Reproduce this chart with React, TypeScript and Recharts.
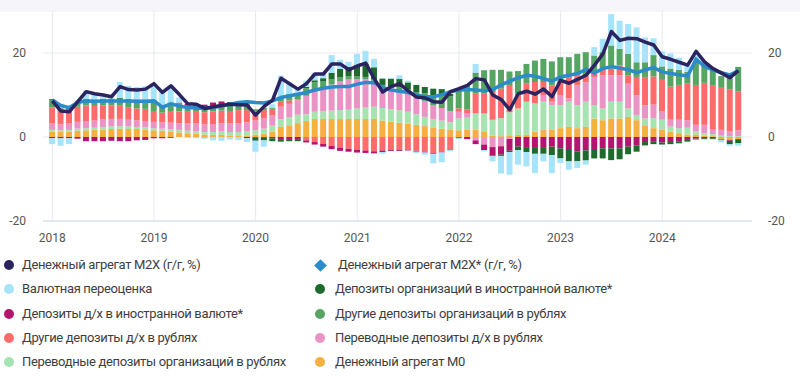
import { ComposedChart, Bar, Line, XAxis, YAxis, CartesianGrid } from 'recharts'

// x = month index, 0 = Jan 2018
const years = ['2018', '2019', '2020', '2021', '2022', '2023', '2024']
const yearTicks = [0, 12, 24, 36, 48, 60, 72]
const yTicks = [-20, 0, 20]

// contributions, p.p.
const m0 = [
    1.3, 1.2, 1.3, 1.5, 1.6, 1.7, 1.8, 1.9, 2.0, 1.9, 1.9, 1.8,
    1.6, 1.5, 1.3, 1.1, 0.9, 0.8, 0.6, 0.5, 0.5, 0.4, 0.4, 0.4,
    0.6, 0.8, 1.3, 2.4, 2.8, 3.3, 3.8, 4.3, 4.3, 4.3, 4.3, 4.3,
    4.3, 4.3, 4.3, 3.9, 3.6, 3.4, 3.2, 2.9, 2.6, 2.3, 2.0, 1.7,
    1.6, 1.7, 1.7, 1.2, 0.3, 0.2, 0.4, 0.5, 0.5, 1.3, 1.7, 1.7,
    2.1, 2.4, 2.1, 2.4, 4.4, 4.0, 4.4, 4.4, 4.8, 4.0, 2.8, 2.1,
    1.7, 1.3, 0.9, 0.6, 0.5, 0.3, 0.2, -0.5, -0.7, -0.5
]
const orgTransfer = [
    0.4, 0.4, 0.4, 0.5, 0.5, 0.5, 0.6, 0.6, 0.6, 0.6, 0.5, 0.5,
    0.5, 0.5, 0.5, 0.6, 0.6, 0.6, 0.6, 0.7, 0.8, 0.8, 0.8, 0.9,
    1.0, 1.2, 1.4, 1.8, 1.9, 2.0, 1.6, 1.7, 1.8, 2.0, 2.1, 2.2,
    2.5, 2.7, 2.9, 3.0, 3.0, 3.0, 2.8, 2.5, 2.2, 2.0, 1.9, 1.8,
    2.8, 2.9, 3.9, 4.4, 3.8, 4.3, 5.5, 6.3, 7.9, 6.7, 6.7, 5.9,
    5.5, 6.0, 5.5, 6.0, 3.2, 2.8, 4.0, 4.0, 2.0, 1.2, 1.6, 2.4,
    2.4, 1.2, 1.2, 1.6, 0.8, 0.6, 0.5, 0.3, 0.2, 0.2
]
const hhTransfer = [
    1.5, 1.4, 1.5, 1.6, 1.7, 1.7, 1.8, 1.8, 1.7, 1.6, 1.6, 1.5,
    1.5, 1.5, 1.6, 1.6, 1.7, 1.8, 1.8, 1.9, 2.0, 2.0, 2.1, 2.2,
    2.3, 2.4, 2.4, 3.0, 3.2, 3.4, 4.4, 5.0, 5.5, 6.2, 6.8, 7.2,
    7.0, 6.8, 6.2, 5.2, 5.0, 4.8, 4.8, 4.2, 3.8, 3.2, 3.0, 2.7,
    1.6, 1.1, -0.8, -1.8, -2.4, -2.2, -0.5, 0.0, 0.0, 0.0, 1.6, 0.8,
    2.4, 0.8, 4.7, 4.7, 6.7, 7.9, 6.3, 6.3, 5.9, 4.7, 3.2, 3.2,
    2.0, 1.6, 2.0, 1.8, 1.6, 2.0, 1.2, 1.4, 1.1, 1.4
]
const hhOther = [
    3.8, 3.0, 3.2, 3.6, 3.7, 3.5, 3.3, 3.2, 3.3, 3.0, 2.8, 2.9,
    2.6, 2.3, 2.6, 2.8, 2.8, 2.8, 2.9, 3.0, 3.0, 3.0, 3.1, 2.9,
    2.3, 2.0, 1.6, 1.2, 0.8, 0.3, -0.8, -1.2, -1.6, -2.1, -2.5, -2.8,
    -3.0, -3.2, -3.4, -3.2, -3.0, -3.0, -3.0, -3.3, -3.5, -3.8, -3.6, -3.0,
    0.8, 0.8, 4.7, 4.7, 6.6, 7.0, 6.5, 3.5, 4.3, 5.1, 3.1, 3.9,
    3.5, 5.1, 2.4, 1.6, 1.0, 1.6, 1.6, 2.4, 2.0, 4.4, 6.7, 6.7,
    7.5, 7.9, 8.3, 8.7, 9.5, 10.0, 10.3, 10.0, 10.1, 9.2
]
const orgOther = [
    1.8, 0.7, 0.4, 0.8, 1.2, 1.1, 1.3, 1.4, 1.5, 1.6, 1.7, 1.9,
    2.3, 1.6, 2.0, 1.9, 1.6, 1.6, 1.3, 1.4, 1.5, 1.6, 1.5, 1.4,
    0.4, 0.6, 0.3, 1.2, 1.5, 1.4, 1.8, 2.0, 1.6, 1.2, 1.0, 0.8,
    0.6, 0.5, 0.4, 0.3, 0.5, 0.6, 0.5, 1.0, 1.8, 2.4, 2.8, 3.5,
    4.0, 5.8, 4.8, 5.6, 5.3, 4.5, 3.2, 5.4, 4.7, 5.1, 5.5, 5.7,
    5.5, 4.7, 5.1, 5.5, 4.1, 3.9, 5.5, 3.9, 5.1, 3.5, 3.5, 5.1,
    3.2, 4.3, 3.6, 2.8, 5.5, 4.3, 3.6, 2.8, 3.6, 5.9
]
const hhForeign = [
    -0.3, -0.3, -0.3, -0.4, -1.0, -1.0, -1.0, -0.9, -1.0, -1.0, -0.8, -0.7,
    -0.3, -0.3, -0.2, 0.2, 0.3, 0.3, 0.5, 0.7, 0.6, 0.3, 0.2, 0.2,
    -0.2, -0.2, -0.3, -0.5, -0.5, -0.5, -0.5, -0.6, -0.7, -0.8, -0.8, -0.7,
    -0.7, -0.6, -0.5, -0.4, -0.3, -0.3, -0.2, -0.2, -0.2, -0.2, -0.1, -0.1,
    -0.2, -0.5, -0.9, -1.3, -2.0, -2.0, -2.8, -2.3, -2.4, -2.4, -2.4, -2.3,
    -2.7, -3.1, -3.5, -3.2, -3.1, -2.7, -2.7, -2.7, -2.3, -2.0, -1.2, -1.0,
    -1.3, -1.2, -1.0, -0.7, -0.4, -0.3, -0.3, -0.1, -0.2, -0.2
]
const orgForeign = [
    0.2, 0.1, 0.1, 0.1, 0.3, 0.2, 0.2, 0.2, 0.2, 0.3, 0.4, 0.3,
    0.2, 0.1, 0.2, 0.0, 0.0, 0.0, -0.1, 0.0, 0.1, 0.2, 0.1, -0.3,
    -0.7, -0.6, -0.7, -0.6, -0.5, -0.5, 0.3, 0.5, 0.8, 1.6, 2.0, 2.2,
    2.8, 3.2, 2.8, 1.5, 1.8, 2.0, 1.7, 1.8, 1.5, 1.6, 1.7, 0.6,
    0.6, 0.0, 0.2, 0.0, -0.2, -0.3, -0.3, -0.8, -1.2, -1.6, -1.6, -2.0,
    -2.4, -2.7, -2.3, -2.4, -2.0, -2.4, -2.8, -2.6, -1.8, -1.5, -0.8, -0.7,
    -0.5, -0.5, -0.5, -0.4, -0.2, -0.2, -0.2, -0.1, -0.8, -0.8
]
const fxRevaluation = [
    -1.4, -1.8, -1.4, 0.6, 2.0, 1.3, 0.5, 0.3, 3.8, 3.2, 3.0, 3.2,
    3.8, 3.5, 4.0, 1.2, -0.2, -0.3, -0.3, -0.8, -0.9, -0.6, -0.7, -0.9,
    -2.6, -1.5, 0.8, 5.0, 2.8, 1.5, 1.5, 1.8, 1.3, 4.2, 2.2, 1.2,
    2.6, 3.0, 2.0, -0.4, 0.2, 0.9, 0.4, -0.3, -0.5, -2.3, -2.3, -0.3,
    -0.3, 0.0, 2.1, -0.3, -1.2, -4.2, -5.4, -3.5, -3.4, -4.6, -1.8, -4.3,
    -1.1, -2.0, -1.6, -1.0, 2.0, 3.2, 7.5, 6.7, 7.1, 8.3, 5.9, 4.0,
    3.6, 3.6, 2.9, 2.0, 1.5, -0.2, -0.1, -0.6, -0.4, -0.6
]

// y/y, %
const m2x = [
    8.6, 6.2, 6.0, 8.4, 10.8, 10.3, 10.0, 9.6, 12.0, 11.3, 11.2, 11.4,
    12.7, 10.6, 12.2, 10.1, 7.9, 7.8, 6.8, 7.2, 7.5, 7.8, 7.7, 7.6,
    5.2, 7.3, 8.8, 14.0, 12.7, 11.4, 12.7, 15.0, 15.0, 17.4, 17.4, 16.0,
    16.9, 17.6, 13.9, 10.7, 12.0, 12.7, 11.0, 9.5, 9.3, 8.4, 8.3, 10.8,
    11.5, 12.3, 13.9, 13.6, 10.0, 8.9, 6.5, 10.3, 10.9, 10.2, 11.4, 9.6,
    13.5, 12.8, 13.7, 14.7, 17.1, 19.8, 25.1, 23.0, 23.5, 23.4, 22.6, 21.9,
    19.1, 18.5, 17.8, 17.1, 20.4, 17.9, 16.3, 15.2, 14.1, 15.8
]
const m2xStar = [
    8.8, 7.5, 7.0, 8.2, 8.6, 8.5, 8.6, 8.6, 8.6, 8.6, 8.5, 8.5,
    8.6, 7.1, 7.9, 7.4, 7.0, 6.9, 6.8, 7.0, 7.4, 7.8, 8.2, 8.4,
    8.2, 8.1, 8.6, 9.4, 9.8, 10.2, 10.6, 11.2, 11.6, 11.9, 12.0, 12.0,
    12.6, 13.0, 12.9, 11.8, 11.2, 10.9, 10.6, 10.0, 9.6, 9.6, 10.1, 10.8,
    11.1, 11.3, 11.2, 11.0, 11.3, 12.4, 13.3, 14.1, 14.7, 14.5, 13.9, 13.3,
    14.3, 14.7, 15.1, 16.1, 15.2, 16.3, 16.8, 16.4, 16.0, 15.3, 16.0, 16.5,
    15.5, 15.1, 14.8, 14.5, 18.5, 16.8, 15.9, 15.3, 14.8, 15.8
]

const COLORS = {
    m2x: '#2c2461',
    m2xStar: '#2b8bcb',
    fx: '#a6e4fc',
    orgForeign: '#1d6a2c',
    hhForeign: '#b4146e',
    orgOther: '#56a562',
    hhOther: '#ff6b6b',
    hhTransfer: '#eb93c4',
    orgTransfer: '#a5e3b0',
    m0: '#f5b041'
}

// legend, two columns, row-major as on the page
const legendItems = [
    { label: 'Денежный агрегат M2X (г/г, %)', color: COLORS.m2x, shape: 'circle' },
    { label: 'Денежный агрегат M2X* (г/г, %)', color: COLORS.m2xStar, shape: 'diamond' },
    { label: 'Валютная переоценка', color: COLORS.fx, shape: 'circle' },
    { label: 'Депозиты организаций в иностранной валюте*', color: COLORS.orgForeign, shape: 'circle' },
    { label: 'Депозиты д/х в иностранной валюте*', color: COLORS.hhForeign, shape: 'circle' },
    { label: 'Другие депозиты организаций в рублях', color: COLORS.orgOther, shape: 'circle' },
    { label: 'Другие депозиты д/х в рублях', color: COLORS.hhOther, shape: 'circle' },
    { label: 'Переводные депозиты д/х в рублях', color: COLORS.hhTransfer, shape: 'circle' },
    { label: 'Переводные депозиты организаций в рублях', color: COLORS.orgTransfer, shape: 'circle' },
    { label: 'Денежный агрегат M0', color: COLORS.m0, shape: 'circle' }
]

const data = m2x.map((v, i) => ({
    i,
    m0: m0[i],
    orgTransfer: orgTransfer[i],
    hhTransfer: hhTransfer[i],
    hhOther: hhOther[i],
    orgOther: orgOther[i],
    hhForeign: hhForeign[i],
    orgForeign: orgForeign[i],
    fx: fxRevaluation[i],
    m2x: v,
    m2xStar: m2xStar[i]
}))

// stacking order from zero outwards
const barKeys = [
    'm0',
    'orgTransfer',
    'hhTransfer',
    'hhOther',
    'orgOther',
    'hhForeign',
    'orgForeign',
    'fx'
] as const

const tickStyle = { fontSize: 12, fill: '#555', fontFamily: 'Roboto' }

const App = () => {
    return (
        <div
            style={{
                position: 'absolute',
                left: 0,
                top: 0,
                width: 800,
                height: 388,
                background: '#fff',
                fontFamily: 'Roboto, sans-serif',
                overflow: 'hidden'
            }}
        >
            <div
                style={{
                    position: 'absolute',
                    left: 0,
                    top: 0,
                    width: 800,
                    height: 12,
                    background: '#f5f5fa'
                }}
            />
            <div style={{ position: 'absolute', left: 0, top: 0 }}>
                <ComposedChart
                    width={800}
                    height={250}
                    data={data}
                    stackOffset='sign'
                    margin={{ top: 11, right: 0, bottom: 5, left: 0 }}
                >
                    {/* syncWithTicks: no extra lines at the plot edges */}
                    <CartesianGrid
                        stroke='#e6e9f0'
                        yAxisId='left'
                        syncWithTicks
                    />
                    <XAxis
                        dataKey='i'
                        type='number'
                        domain={[-1.1, 82.6]}
                        ticks={yearTicks}
                        tickFormatter={(v) => years[Math.round(v / 12)]}
                        axisLine={{ stroke: '#d2daea' }}
                        tickLine={false}
                        tick={tickStyle}
                        tickMargin={6}
                        height={24}
                    />
                    <YAxis
                        yAxisId='left'
                        domain={[-20, 30]}
                        ticks={yTicks}
                        axisLine={false}
                        tickLine={false}
                        tick={tickStyle}
                        tickMargin={11}
                        width={43}
                    />
                    <YAxis
                        yAxisId='right'
                        orientation='right'
                        domain={[-20, 30]}
                        ticks={yTicks}
                        axisLine={false}
                        tickLine={false}
                        tick={tickStyle}
                        tickMargin={10}
                        width={48}
                    />
                    {barKeys.map((key) => (
                        <Bar
                            key={key}
                            yAxisId='left'
                            dataKey={key}
                            stackId='a'
                            fill={COLORS[key]}
                            barSize={6}
                            isAnimationActive={false}
                        />
                    ))}
                    {/* invisible copy so the right axis has a series and draws its ticks */}
                    <Line
                        yAxisId='right'
                        dataKey='m2x'
                        stroke='none'
                        strokeWidth={0}
                        dot={false}
                        activeDot={false}
                        isAnimationActive={false}
                    />
                    <Line
                        yAxisId='left'
                        type='linear'
                        dataKey='m2xStar'
                        stroke={COLORS.m2xStar}
                        strokeWidth={3.5}
                        dot={false}
                        isAnimationActive={false}
                    />
                    <Line
                        yAxisId='left'
                        type='linear'
                        dataKey='m2x'
                        stroke={COLORS.m2x}
                        strokeWidth={3.5}
                        strokeLinejoin='round'
                        dot={false}
                        isAnimationActive={false}
                    />
                </ComposedChart>
            </div>
            {legendItems.map((item, idx) => {
                const col = idx % 2
                const row = Math.floor(idx / 2)
                const cy = 265 + row * 24.3
                const mx = col === 0 ? 9 : 320
                const tx = col === 0 ? 22 : item.shape === 'diamond' ? 338 : 335
                return (
                    <div key={item.label}>
                        {item.shape === 'diamond' ? (
                            <div
                                style={{
                                    position: 'absolute',
                                    left: mx - 4.5,
                                    top: cy - 4.5,
                                    width: 9,
                                    height: 9,
                                    background: item.color,
                                    transform: 'rotate(45deg)'
                                }}
                            />
                        ) : (
                            <div
                                style={{
                                    position: 'absolute',
                                    left: mx - 5,
                                    top: cy - 5,
                                    width: 10,
                                    height: 10,
                                    borderRadius: '50%',
                                    background: item.color
                                }}
                            />
                        )}
                        <div
                            style={{
                                position: 'absolute',
                                left: tx,
                                top: cy - 9,
                                height: 18,
                                lineHeight: '18px',
                                fontSize: 13,
                                letterSpacing: -0.35,
                                color: '#3e3e3e',
                                whiteSpace: 'nowrap'
                            }}
                        >
                            {item.label}
                        </div>
                    </div>
                )
            })}
        </div>
    )
}

export default App
